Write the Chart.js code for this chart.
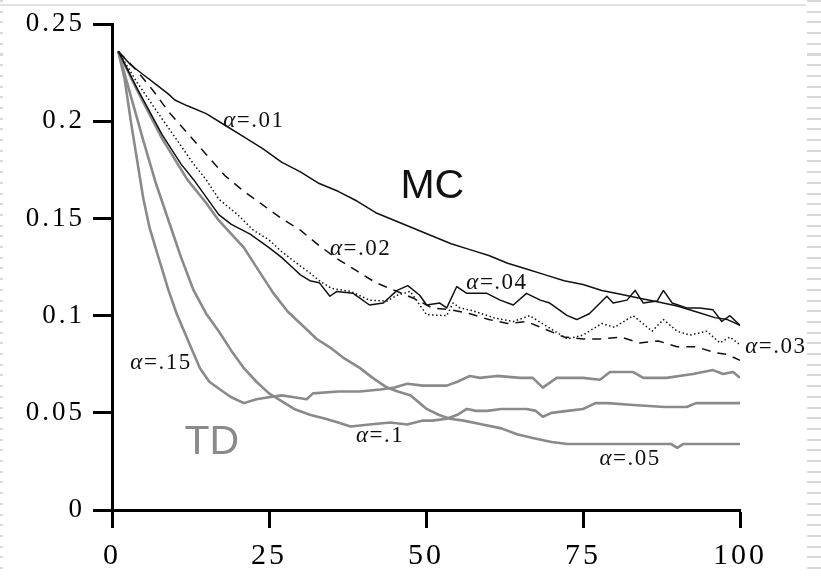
<!DOCTYPE html>
<html>
<head>
<meta charset="utf-8">
<title>RMS error, random walk: MC vs TD</title>
<script src="https://cdn.jsdelivr.net/npm/chart.js@4"></script>
<style>
  html, body { margin: 0; padding: 0; background: #fff; }
  #wrap { position: relative; width: 821px; height: 576px; overflow: hidden; }
  #wrap canvas { position: absolute; left: 0; top: 0; }
  .edge-top { position: absolute; left: 0; top: 4px; width: 806px; height: 2px; background: #e2e2e2; }
  .edge-l, .edge-r {
    position: absolute; top: 0; height: 576px;
    background: repeating-linear-gradient(to bottom, #d8d8d8 0 2px, transparent 2px 10.7px);
  }
  .edge-l { left: 0; width: 3px; }
  .edge-r { left: 807px; width: 14px; }
</style>
</head>
<body>
<div id="wrap">
  <div class="edge-top"></div>
  <div class="edge-l"></div>
  <div class="edge-r"></div>
  <canvas id="mainChart" width="821" height="576"></canvas>
</div>
<script>
'use strict';

/* ── data (episodes / RMS error) ── */

const xTickLabels = ['0', '25', '50', '75', '100'];
const yTickLabels = ['0', '0.05', '0.1', '0.15', '0.2', '0.25'];

// MC, alpha = .01
const mc01Ep  = [1,3,5,7,9,10,12,15,18,21,24,27,30,33,36,39,42,45,48,51,54,57,60,63,66,69,72,75,78,81,84,87,90,93,96,98,100];
const mc01Val = [.236,.229,.224,.219,.214,.211,.208,.204,.198,.192,.186,.179,.174,.168,.164,.159,.153,.149,.145,.141,.137,.134,.131,.127,.124,.121,.118,.116,.113,.111,.109,.107,.105,.102,.099,.098,.095];

// MC, alpha = .02 (dashed)
const mc02Ep  = [1,4,6.5,9,12,15,18,21,24,27,30,33,36,39,42,45,48,51,54,57,60,63,66,69,72,75,78,81,84,87,90,93,96,98,100];
const mc02Val = [.236,.226,.216,.205,.194,.183,.172,.164,.157,.150,.144,.136,.129,.123,.117,.113,.109,.104,.103,.101,.098,.096,.097,.093,.089,.088,.088,.089,.086,.087,.084,.084,.081,.080,.077];

// MC, alpha = .03 (dotted)
const mc03Ep  = [1,4,7.6,10,13,15,17,20,22.5,25,27,29,31.5,33,35,38,41,43.8,45.4,47.5,49,50.1,53.3,54.3,55.4,57.5,60.7,63.9,66.5,69,72.5,75,78,80,83,86,87.8,90,92,94.7,96.8,98.4,100];
const mc03Val = [.236,.220,.203,.192,.178,.170,.160,.152,.144,.139,.133,.128,.122,.118,.114,.1125,.108,.1075,.1105,.1125,.1055,.1005,.100,.1065,.104,.1025,.099,.097,.100,.095,.088,.090,.096,.094,.100,.092,.098,.092,.090,.092,.086,.089,.085];

// MC, alpha = .04
const mc04Ep  = [1,4,8,11,13,15,17,19,22,25,27,29,30,31.5,33,34.7,35.8,38.4,41,43.2,45.4,47.1,49,50.1,52.2,53.3,54.9,56.5,59.7,61.8,63.9,66,68.2,69.7,72.5,74,76,78.8,79.8,82,83.3,84.6,86.8,87.8,89.2,91.5,93.6,95.7,97.1,98.4,100];
const mc04Val = [.236,.217,.193,.178,.170,.161,.152,.147,.142,.135,.130,.124,.121,.118,.117,.110,.1125,.1115,.1055,.1065,.113,.1155,.1105,.1055,.1065,.104,.115,.1115,.1115,.108,.1055,.1115,.108,.1065,.100,.098,.101,.110,.1065,.108,.113,.1065,.1075,.113,.1065,.104,.104,.103,.097,.100,.095];

// TD, alpha = .05
const td05Ep  = [1,4,8,12,15,17,21,23,25.6,28,30,32.6,35,37,39.5,41.5,43.8,45.5,47.5,49,50.1,52,53.8,56,59,62,64.5,67,70,72.5,80,89,90,91,100];
const td05Val = [.236,.216,.191,.170,.158,.149,.135,.125,.112,.102,.096,.088,.083,.078,.073,.068,.063,.061,.059,.055,.052,.049,.047,.046,.044,.042,.039,.037,.035,.034,.034,.034,.032,.034,.034];

// TD, alpha = .1
const td10Ep  = [1,3,5,7,9,11,13,15,17,19,21,23,25,27,29,31.5,34,36,38,41,44.3,47,49.5,51,53.3,55,56.5,58,59.7,62,66,67.5,68.6,70,72.5,75,77,79,83,88,91.5,93,100];
const td10Val = [.236,.213,.190,.168,.149,.130,.113,.101,.092,.082,.073,.066,.060,.056,.052,.049,.047,.045,.043,.044,.045,.044,.046,.046,.047,.049,.052,.051,.051,.052,.052,.051,.048,.050,.051,.052,.055,.055,.054,.053,.053,.055,.055];

// TD, alpha = .15
const td15Ep  = [1,2,3,4,5,6,7.4,9,10.3,12.4,14,15.5,17.2,19,21,23,25,27,29,31,32,36,39.5,42.7,45,47,49.5,53.3,55,57,58.6,61.3,65,67,68.6,70.8,75,77.7,79.3,83,84.6,88.3,92.5,95.7,97.3,98.9,100];
const td15Val = [.236,.222,.200,.180,.160,.145,.130,.113,.101,.085,.073,.066,.062,.058,.055,.057,.058,.059,.058,.057,.060,.061,.061,.062,.063,.065,.064,.064,.066,.069,.068,.069,.068,.068,.063,.068,.068,.067,.071,.071,.068,.068,.070,.072,.070,.071,.068];

// in-plot annotations, anchored in data space
const alphaTexts = ['α=.01', 'α=.02', 'α=.04', 'α=.03', 'α=.15', 'α=.1', 'α=.05'];
const alphaEp    = [22.6, 39.6, 61.3, 105.7, 7.8, 42.7, 82.5];
const alphaVal   = [0.2003, 0.1344, 0.1166, 0.0837, 0.0756, 0.038, 0.0264];
const groupTexts = ['MC', 'TD'];
const groupEp    = [51, 15.9];
const groupVal   = [0.1663, 0.0345];

/* ── styling ── */

const C_BLACK = '#111111';
const C_GRAY  = '#8a8a8a';
const SERIF   = '"Liberation Serif", "Times New Roman", serif';
const SANS    = '"Liberation Sans", Arial, sans-serif';

function pts(ep, val) {
  return ep.map((e, i) => ({ x: e, y: val[i] }));
}

function mcLine(label, ep, val, dash) {
  return { label, data: pts(ep, val), borderColor: C_BLACK, borderWidth: 1.5, borderDash: dash || [] };
}

function tdLine(label, ep, val) {
  return { label, data: pts(ep, val), borderColor: C_GRAY, borderWidth: 2.6 };
}

/* wide serif tick labels + annotations */
const annotate = {
  id: 'annotate',
  beforeDraw(chart) {
    // scales are painted before the datasets; widen their digits a bit
    chart.ctx.letterSpacing = '3px';
  },
  beforeDatasetsDraw(chart) {
    chart.ctx.letterSpacing = '0px';
  },
  afterDraw(chart) {
    const { ctx, scales: { x, y } } = chart;
    ctx.save();
    ctx.textBaseline = 'middle';
    ctx.textAlign = 'left';
    ctx.fillStyle = C_BLACK;
    ctx.letterSpacing = '1.5px';

    alphaTexts.forEach((t, i) => {
      const cx = x.getPixelForValue(alphaEp[i]);
      const cy = y.getPixelForValue(alphaVal[i]);
      const head = t.slice(0, 1), rest = t.slice(1);
      ctx.font = 'italic 23px ' + SERIF;
      const wh = ctx.measureText(head).width;
      ctx.font = '23px ' + SERIF;
      const wr = ctx.measureText(rest).width;
      const sx = cx - (wh + wr) / 2;
      ctx.font = 'italic 23px ' + SERIF;
      ctx.fillText(head, sx, cy);
      ctx.font = '23px ' + SERIF;
      ctx.fillText(rest, sx + wh, cy);
    });

    ctx.letterSpacing = '0px';
    ctx.textAlign = 'center';
    ctx.font = '41px ' + SANS;
    groupTexts.forEach((t, i) => {
      ctx.fillStyle = i === 0 ? C_BLACK : C_GRAY;
      ctx.fillText(t, x.getPixelForValue(groupEp[i]), y.getPixelForValue(groupVal[i]));
    });
    ctx.restore();
  },
};

const ctx = document.getElementById('mainChart').getContext('2d');

new Chart(ctx, {
  type: 'line',
  data: {
    datasets: [
      // first dataset is painted last (on top)
      mcLine('MC α=.01', mc01Ep, mc01Val),
      mcLine('MC α=.04', mc04Ep, mc04Val),
      mcLine('MC α=.03', mc03Ep, mc03Val, [1.5, 2.5]),
      mcLine('MC α=.02', mc02Ep, mc02Val, [9, 7]),
      tdLine('TD α=.05', td05Ep, td05Val),
      tdLine('TD α=.1',  td10Ep, td10Val),
      tdLine('TD α=.15', td15Ep, td15Val),
    ],
  },
  options: {
    responsive: false,
    animation: false,
    devicePixelRatio: 1,
    layout: { padding: { top: 17, right: 81, bottom: 0, left: 0 } },
    elements: {
      point: { radius: 0, hoverRadius: 0 },
      line: { tension: 0, fill: false, borderCapStyle: 'butt', borderJoinStyle: 'round' },
    },
    plugins: { legend: { display: false }, tooltip: { enabled: false } },
    scales: {
      x: {
        type: 'linear',
        min: 0,
        max: 100,
        afterFit: (s) => { s.height = 66; },
        border: { display: true, color: '#000', width: 3 },
        grid: { drawOnChartArea: false, drawTicks: true, tickLength: 18, tickWidth: 3, tickColor: '#000' },
        ticks: {
          stepSize: 25,
          maxRotation: 0,
          autoSkip: false,
          padding: 10,
          color: '#000',
          font: { family: SERIF, size: 30 },
          callback: (v, i) => xTickLabels[i],
        },
      },
      y: {
        type: 'linear',
        min: 0,
        max: 0.25,
        afterFit: (s) => { s.width = 112; },
        border: { display: true, color: '#000', width: 3 },
        grid: { drawOnChartArea: false, drawTicks: true, tickLength: 19, tickWidth: 3, tickColor: '#000' },
        ticks: {
          stepSize: 0.05,
          padding: 8,
          color: '#000',
          font: { family: SERIF, size: 27 },
          callback: (v, i) => yTickLabels[i],
        },
      },
    },
  },
  plugins: [annotate],
});
</script>
</body>
</html>
